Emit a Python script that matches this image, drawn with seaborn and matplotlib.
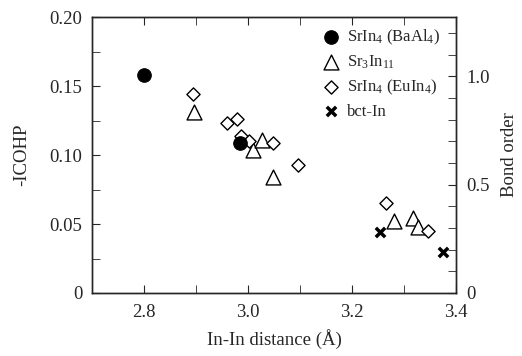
import numpy as np
import matplotlib.pyplot as plt
import seaborn as sns
from matplotlib.ticker import MultipleLocator, FixedLocator

sns.set_style("ticks")
plt.rcParams['font.family'] = ['Liberation Serif', 'DejaVu Serif']
plt.rcParams['mathtext.fontset'] = 'custom'
plt.rcParams['mathtext.rm'] = 'Liberation Serif'
plt.rcParams['mathtext.it'] = 'Liberation Serif:italic'

# SrIn4 (BaAl4 type)
baal4_d = [2.80, 2.985]
baal4_c = [0.158, 0.109]

# Sr3In11
sr3_d = [2.896, 3.010, 3.027, 3.048, 3.281, 3.317, 3.327]
sr3_c = [0.131, 0.104, 0.111, 0.084, 0.052, 0.054, 0.048]

# SrIn4 (EuIn4 type)
euin4_d = [2.894, 2.960, 2.979, 2.987, 3.002, 3.048, 3.096, 3.265, 3.346]
euin4_c = [0.144, 0.123, 0.126, 0.114, 0.110, 0.109, 0.093, 0.065, 0.045]

# bct-In
bct_d = [3.254, 3.375]
bct_c = [0.044, 0.030]

# bond order 1 corresponds to this -ICOHP
ref_icohp = 0.157

fig = plt.figure(figsize=(5.22, 3.56), dpi=100)
ax = fig.add_axes([0.176, 0.177, 0.698, 0.775])

sns.scatterplot(x=baal4_d, y=baal4_c, ax=ax, marker="o", s=95, color="black",
                edgecolor="black", label="SrIn$_4$ (BaAl$_4$)", zorder=4)
sns.scatterplot(x=sr3_d, y=sr3_c, ax=ax, marker="^", s=115, facecolor="white",
                edgecolor="black", linewidth=1.0, label="Sr$_3$In$_{11}$", zorder=3)
sns.scatterplot(x=euin4_d, y=euin4_c, ax=ax, marker="D", s=45, facecolor="white",
                edgecolor="black", linewidth=1.0, label="SrIn$_4$ (EuIn$_4$)", zorder=3)
sns.scatterplot(x=bct_d, y=bct_c, ax=ax, marker="x", s=45, color="black",
                linewidth=2.5, label="bct-In", zorder=3)

ax.set_xlim(2.7, 3.4)
ax.set_ylim(0, 0.2)
ax.xaxis.set_major_locator(FixedLocator([2.8, 3.0, 3.2, 3.4]))
ax.xaxis.set_minor_locator(MultipleLocator(0.1))
ax.set_xticklabels(["2.8", "3.0", "3.2", "3.4"])
ax.yaxis.set_major_locator(FixedLocator([0, 0.05, 0.10, 0.15, 0.20]))
ax.yaxis.set_minor_locator(MultipleLocator(0.025))
ax.set_yticklabels(["0", "0.05", "0.10", "0.15", "0.20"])
ax.tick_params(which="both", direction="in", top=True, right=False, labelsize=13.5)
ax.tick_params(which="both", length=6)
ax.tick_params(axis="x", pad=8)
ax.tick_params(axis="y", pad=7)
ax.set_xlabel("In-In distance (Å)", fontsize=13.5, labelpad=6)
ax.set_ylabel("-ICOHP", fontsize=13.5, labelpad=14)

ax2 = ax.twinx()
ax2.set_ylim(0, 0.2 / ref_icohp)
ax2.yaxis.set_major_locator(FixedLocator([0, 0.5, 1.0]))
ax2.yaxis.set_minor_locator(MultipleLocator(0.1))
ax2.set_yticklabels(["0", "0.5", "1.0"])
ax2.tick_params(which="both", direction="in", labelsize=13.5, length=6, pad=7)
ax2.set_ylabel("Bond order", fontsize=13.5, labelpad=8)

for a in (ax, ax2):
    for sp in a.spines.values():
        sp.set_linewidth(1.0)

leg = ax.legend(loc="upper left", bbox_to_anchor=(0.61, 0.985), frameon=False,
                fontsize=12, handletextpad=0.4, labelspacing=0.4,
                borderaxespad=0.0, handlelength=1.2)

fig.savefig("out.png", dpi=100)
